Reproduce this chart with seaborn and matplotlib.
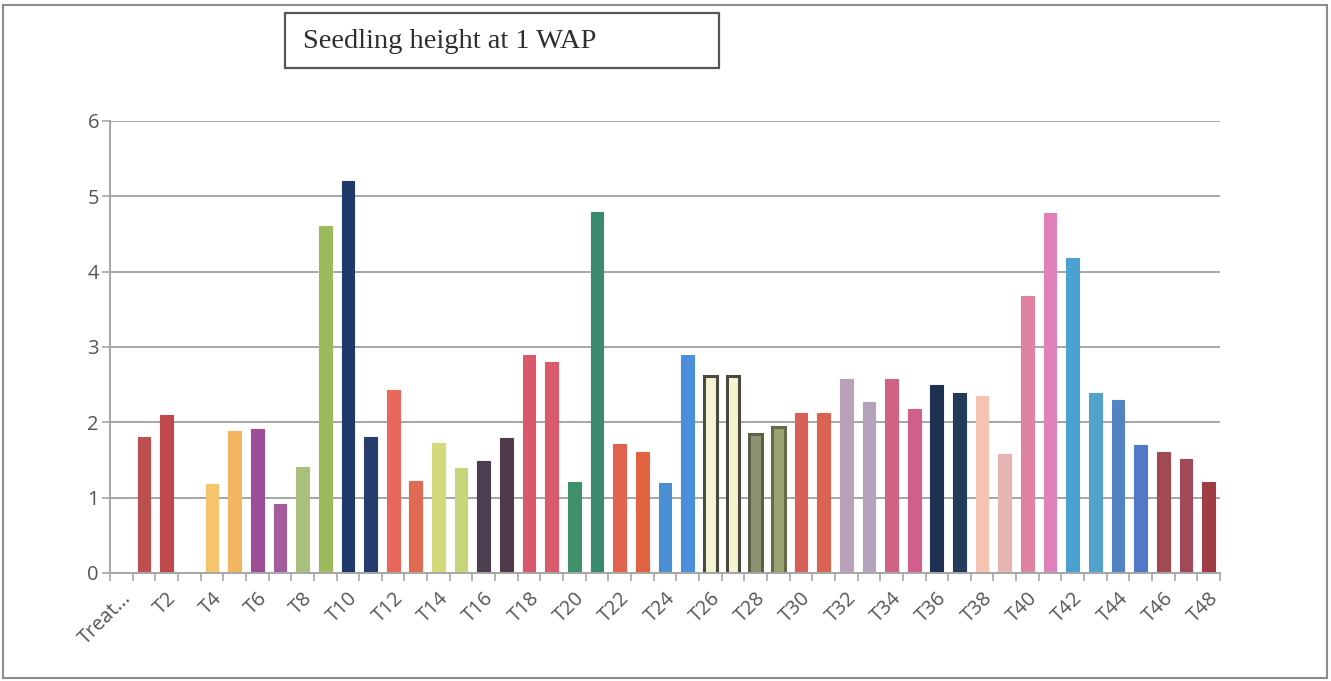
import numpy as np
import pandas as pd
import seaborn as sns
import matplotlib.pyplot as plt
from matplotlib.patches import Rectangle
from matplotlib.ticker import FixedLocator, MultipleLocator

# Treatment labels (first category is the table header, left empty)
categories = ["Treat..."] + [f"T{i}" for i in range(1, 49)]

# Seedling height (cm) at 1 week after planting; T3 has no reading
heights = [np.nan,
           1.80, 2.10, np.nan, 1.18, 1.88, 1.91, 0.91, 1.41, 4.61, 5.21,
           1.81, 2.43, 1.22, 1.72, 1.40, 1.49, 1.79, 2.90, 2.80, 1.21,
           4.79, 1.71, 1.61, 1.20, 2.90, 2.61, 2.61, 1.84, 1.94, 2.13,
           2.13, 2.57, 2.27, 2.57, 2.18, 2.49, 2.39, 2.35, 1.58, 3.68,
           4.78, 4.18, 2.39, 2.30, 1.70, 1.61, 1.51, 1.21]

bar_colors = ["#ffffff",
              "#bd4f4f", "#c0474a", "#ffffff", "#f7c46e", "#f2b660",
              "#9c4f96", "#a45c9c", "#a9bf7e", "#9dbb5c", "#20386a",
              "#273c6c", "#e8695c", "#e06a52", "#d4d97c", "#c8d47c",
              "#4b3f4f", "#4f3a4a", "#d9586c", "#d95b6b", "#3f8f6b",
              "#3b8a6d", "#e0624f", "#e26342", "#4a90d2", "#4b8edb",
              "#f4f3d2", "#f4f3d2", "#8d9272", "#9ba272", "#d9605a",
              "#d96252", "#b9a1b9", "#b3a3bb", "#d06282", "#d0608b",
              "#1f3152", "#233a5b", "#f6c2b2", "#e6b4b2", "#e082a2",
              "#e081b9", "#4aa1d2", "#52a2ca", "#5283c2", "#5279c8",
              "#a24a52", "#a24a5a", "#a03c44"]
edge_colors = {"T26": "#4a4a40", "T27": "#4a4a40", "T28": "#5e6048", "T29": "#66694a"}

df = pd.DataFrame({"treatment": categories, "height": heights})

sns.set_theme(style="white")
plt.rcParams["font.family"] = ["Open Sans", "DejaVu Sans"]

fig = plt.figure(figsize=(13.31, 6.81), dpi=100)
ax = fig.add_axes([110 / 1331, 1 - 573 / 681, 1110 / 1331, 452 / 681])

sns.barplot(data=df, x="treatment", y="height", hue="treatment",
            order=categories, hue_order=categories,
            palette=dict(zip(categories, bar_colors)), saturation=1,
            legend=False, width=0.56, dodge=False, errorbar=None, ax=ax)

for patch, name in zip(ax.patches, [c for c, h in zip(categories, heights) if not np.isnan(h)]):
    ec = edge_colors.get(name)
    if ec:
        patch.set_edgecolor(ec)
        patch.set_linewidth(2.2)
    else:
        patch.set_edgecolor(patch.get_facecolor())
        patch.set_linewidth(0.8)

ax.set_ylim(0, 6)
ax.set_xlim(-0.5, len(categories) - 0.5)
ax.yaxis.set_major_locator(MultipleLocator(1))
ax.grid(axis="y", color="#a6a6a6", linewidth=1.4)
ax.set_axisbelow(True)

# every other category labelled; tick marks sit on category boundaries
ax.xaxis.set_major_locator(FixedLocator(range(0, len(categories), 2)))
ax.set_xticklabels(categories[::2], rotation=45, ha="right",
                   rotation_mode="anchor", color="#555555", fontsize=14.5)
ax.xaxis.set_minor_locator(FixedLocator(np.arange(-0.5, len(categories), 1)))
ax.tick_params(axis="x", which="major", length=0, pad=11)
ax.tick_params(axis="x", which="minor", length=6, color="#a6a6a6", width=1.2, direction="out", bottom=True)
ax.tick_params(axis="y", which="major", length=6, color="#a6a6a6", width=1.2,
               direction="out", left=True, labelsize=14.5, labelcolor="#555555", pad=2)

for side in ("top", "right"):
    ax.spines[side].set_visible(False)
for side in ("left", "bottom"):
    ax.spines[side].set_color("#a6a6a6")
    ax.spines[side].set_linewidth(1.4)

ax.set_xlabel("")
ax.set_ylabel("")

# outer chart border
fig.patches.append(Rectangle((3 / 1331, 3 / 681), 1324 / 1331, 673 / 681,
                             transform=fig.transFigure, fill=False,
                             edgecolor="#8c8c8c", linewidth=1.5))

# boxed title
fig.patches.append(Rectangle((285 / 1331, 1 - 68 / 681), 434 / 1331, 55 / 681,
                             transform=fig.transFigure, fill=False,
                             edgecolor="#555555", linewidth=1.6))
fig.text(303 / 1331, 1 - 42 / 681, "Seedling height at 1 WAP",
         family=["Liberation Serif", "DejaVu Serif"], fontsize=20.5,
         color="#2e2e2e", ha="left", va="center")

fig.savefig("out.png", dpi=100, facecolor="white")
